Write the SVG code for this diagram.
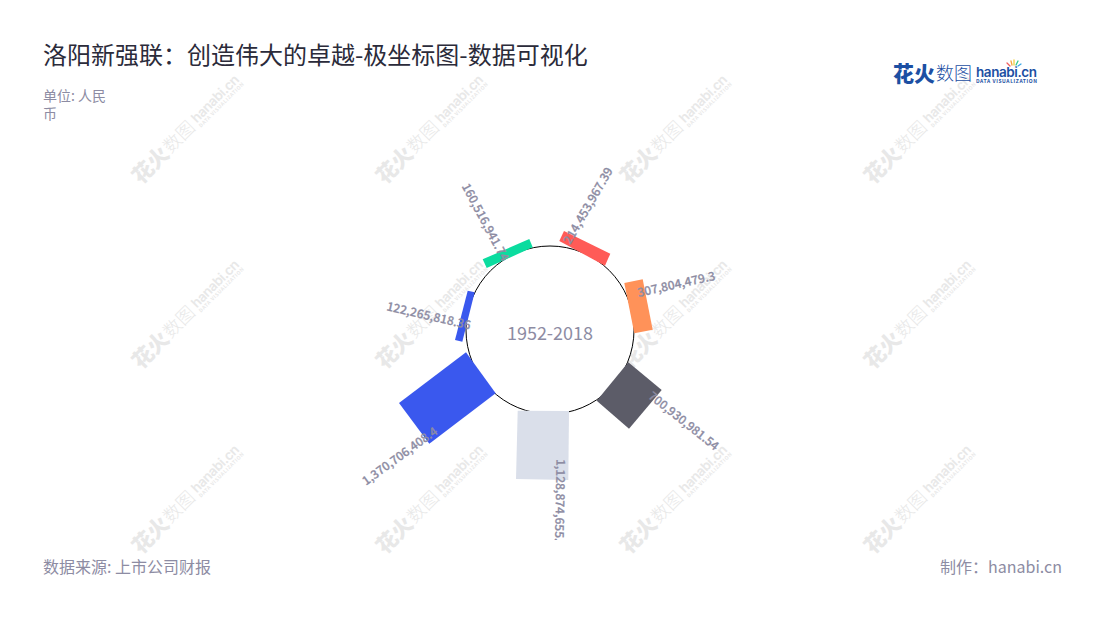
<svg xmlns="http://www.w3.org/2000/svg" xmlns:xlink="http://www.w3.org/1999/xlink" width="1100" height="620" viewBox="0 0 1100 620">
<style>
text{font-family:"Noto Sans CJK SC","Noto Sans",sans-serif}
.lab{font-size:12px;font-weight:500;fill:#8d8ca3;stroke:#8d8ca3;stroke-width:.25px;text-anchor:middle;dominant-baseline:central}
.sub{font-size:14px;fill:#8d8ca3}
.foot{font-size:16px;fill:#8d8ca3}
.wm{fill:#e8e8e8}
.lg{fill:#1c4fa3}
.b{font-size:21px;font-weight:900}
.l{font-size:18px;font-weight:300}
.h{font-size:13.500px;font-weight:600;font-family:"Inter","Noto Sans",sans-serif}
.d{font-size:5px;font-weight:700}
</style>
<defs>
<g id="mark">
<text class="b" x="0" y="0">花火</text>
<text class="l" x="43" y="-1" textLength="36">数图</text>
<text class="h" x="83" y="-4" textLength="61">hanabi.cn</text>
<text class="d" x="83" y="2" textLength="61">DATA VISUALIZATION</text>
</g>
<clipPath id="plot"><rect x="0" y="0" width="1100" height="540"/></clipPath>
</defs>
<rect width="1100" height="620" fill="#fff"/>
<g id="watermarks" class="wm">
<use xlink:href="#mark" transform="translate(141,185) rotate(-45)"/>
<use xlink:href="#mark" transform="translate(385,185) rotate(-45)"/>
<use xlink:href="#mark" transform="translate(629,185) rotate(-45)"/>
<use xlink:href="#mark" transform="translate(873,185) rotate(-45)"/>
<use xlink:href="#mark" transform="translate(141,370) rotate(-45)"/>
<use xlink:href="#mark" transform="translate(385,370) rotate(-45)"/>
<use xlink:href="#mark" transform="translate(629,370) rotate(-45)"/>
<use xlink:href="#mark" transform="translate(873,370) rotate(-45)"/>
<use xlink:href="#mark" transform="translate(141,555) rotate(-45)"/>
<use xlink:href="#mark" transform="translate(385,555) rotate(-45)"/>
<use xlink:href="#mark" transform="translate(629,555) rotate(-45)"/>
<use xlink:href="#mark" transform="translate(873,555) rotate(-45)"/>
</g>
<g id="logo" class="lg">
<use xlink:href="#mark" transform="translate(893,81)"/>
<g stroke-width="1.300" stroke-linecap="round">
<path d="M1010 66l-3-3" stroke="#f25c5c"/><path d="M1012 65l-1-4" stroke="#f5a742"/><path d="M1014 65v-5" stroke="#f0d040"/><path d="M1016 65l2-4" stroke="#35c98f"/><path d="M1018 66l3-2" stroke="#3aa7e8"/>
</g>
</g>
<text id="title" x="43" y="64" font-size="24" fill="#2b2b3a">洛阳新强联&#65306;创造伟大的卓越-极坐标图-数据可视化</text>
<g id="unit" class="sub"><text x="43" y="101">单位: 人民</text><text x="43" y="119">币</text></g>
<circle id="axis" cx="550" cy="330" r="84" fill="#fff" stroke="#000" stroke-width="1"/>
<g id="bars">
<polygon id="bar-2012" points="482.700,259.300 529.300,239 532.700,247.300 486.700,268" fill="#0bdc9f"/>
<polygon id="bar-2013" points="564,231 610.300,253.700 605,265.700 559.300,241" fill="#ff5b57"/>
<polygon id="bar-2014" points="624.300,283 642.700,279.300 652.700,329.700 634.300,333.300" fill="#ff9259"/>
<polygon id="bar-2015" points="628.300,362.300 661.700,390 629,428.700 596.700,400.700" fill="#5c5c68"/>
<polygon id="bar-2016" points="517.700,410.700 569,411 568.300,480 516,479" fill="#dadfea"/>
<polygon id="bar-2017" points="466,352.300 495.700,393.300 429.300,443.700 399,403" fill="#3a58ee"/>
<polygon id="bar-2018" points="467.700,290.700 474.700,292.300 462.300,341.700 455,340" fill="#3a58ee"/>
</g>
<text id="center" x="550" y="340" font-size="18" fill="#8d8ca3" text-anchor="middle">1952-2018</text>
<g id="labels" clip-path="url(#plot)">
<text class="lab" transform="translate(486.500,221.500) rotate(62)">160,516,941.74</text>
<text class="lab" transform="translate(429,314.500) rotate(13)">122,265,818.36</text>
<text class="lab" transform="translate(587,205) rotate(-60)">214,453,967.39</text>
<text class="lab" transform="translate(676,283) rotate(-12.500)">307,804,479.3</text>
<text class="lab" transform="translate(684.500,420) rotate(38.500)">700,930,981.54</text>
<text class="lab" style="text-anchor:start" transform="translate(562,459) rotate(91)">1,128,874,655.1</text>
<text class="lab" transform="translate(399,455) rotate(-36)">1,370,706,408.4</text>
</g>
<text id="source" class="foot" x="43" y="573">数据来源: 上市公司财报</text>
<text id="credit" class="foot" x="1062" y="573" text-anchor="end">制作&#65306;hanabi.cn</text>
</svg>
